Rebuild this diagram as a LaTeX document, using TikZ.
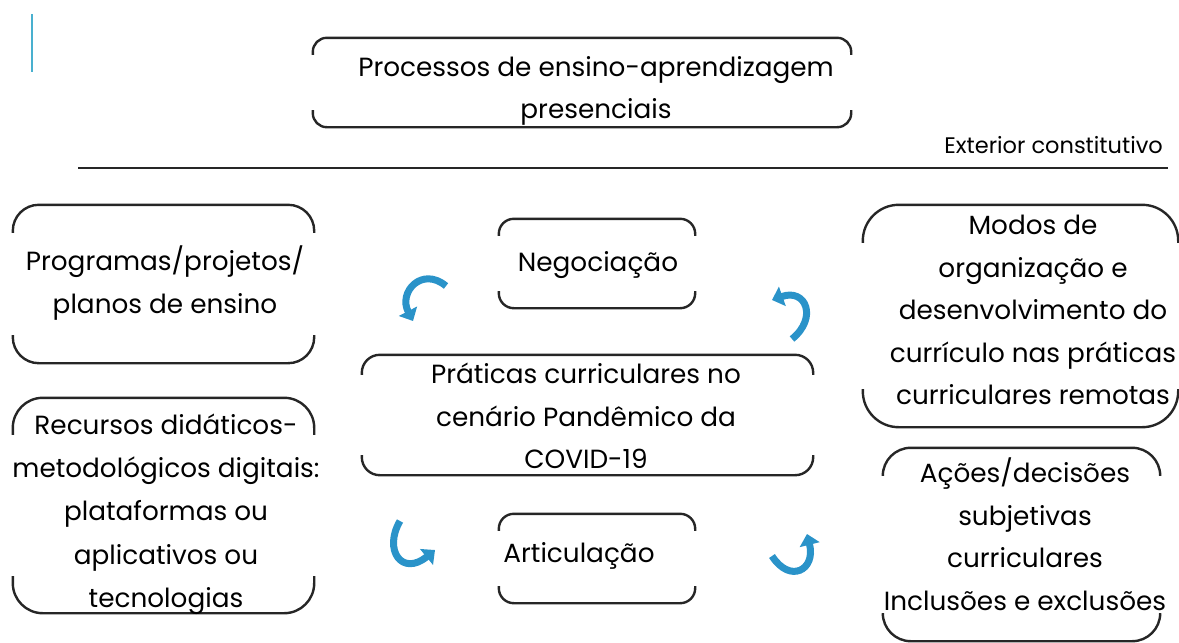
\documentclass[tikz,border=0pt]{standalone}
\usepackage{fontspec}
\setmainfont{Poppins}
\usetikzlibrary{arrows.meta,calc}
\definecolor{arrowblue}{HTML}{2A93C9}
\definecolor{cyanline}{HTML}{49B0CF}
\tikzset{
 box/.style={rectangle, draw=none, inner sep=0pt},
 lbl/.style={align=center, font=\fontsize{26.3}{42.5}\selectfont, inner sep=0pt, text=black},
 brk/.style={draw=black!85, line width=2.4pt, rounded corners=#1},
 carrow/.style={draw=arrowblue, line width=7pt, -{Triangle[width=20pt,length=11pt]}},
}
\newcommand\bracketbox[3]{%
 \draw[brk=#2] ([yshift=-#3]#1.north west) -- (#1.north west) -- (#1.north east) -- ([yshift=-#3]#1.north east);
 \draw[brk=#2] ([yshift=#3]#1.south west) -- (#1.south west) -- (#1.south east) -- ([yshift=#3]#1.south east);
}
\begin{document}
\begin{tikzpicture}[x=1pt,y=-1pt]
\useasboundingbox (0,0) rectangle (1179,643);
% decorative line
\draw[cyanline, line width=2pt] (32,14) -- (32,72);
% boxes
\node[box, minimum width=538pt, minimum height=89pt] (top) at (582,82.5) {};
\node[box, minimum width=301pt, minimum height=158pt] (prog) at (163.5,284) {};
\node[box, minimum width=301pt, minimum height=215pt] (rec) at (163.5,505.5) {};
\node[box, minimum width=196pt, minimum height=89pt] (neg) at (597,263.5) {};
\node[box, minimum width=451pt, minimum height=120pt] (prat) at (587.5,415) {};
\node[box, minimum width=196pt, minimum height=89pt] (art) at (597,558.5) {};
\node[box, minimum width=315pt, minimum height=222pt] (modos) at (1020.5,316) {};
\node[box, minimum width=277pt, minimum height=193pt] (acoes) at (1021.5,544.5) {};
\bracketbox{top}{14pt}{17pt}
\bracketbox{prog}{26pt}{28pt}
\bracketbox{rec}{30pt}{37pt}
\bracketbox{neg}{15pt}{17pt}
\bracketbox{prat}{18pt}{20pt}
\bracketbox{art}{15pt}{17pt}
\bracketbox{modos}{36pt}{38pt}
\bracketbox{acoes}{28pt}{28pt}
% texts
\node[lbl] (ttop) at (596,91) {Processos de ensino-aprendizagem\\presenciais};
\node[lbl] (tprog) at (165,283) {Programas/projetos/\\planos de ensino};
\node[lbl, font=\fontsize{26.3}{43.3}\selectfont] (trec) at (166,514) {Recursos didáticos-\\metodológicos digitais:\\plataformas ou\\aplicativos ou\\tecnologias};
\node[lbl] (tneg) at (598,265) {Negociação};
\node[lbl] (tprat) at (586,416) {Práticas curriculares no\\cenário Pandêmico da\\COVID-19};
\node[lbl] (tart) at (579,556) {Articulação};
\node[lbl] (tmodos) at (1033,310) {Modos de\\organização e\\desenvolvimento do\\currículo nas práticas\\curriculares remotas};
\node[lbl] (tacoes) at (1025,534) {Ações/decisões\\subjetivas\\curriculares\\Inclusões e exclusões};
\node[lbl, font=\fontsize{22.5}{26}\selectfont, anchor=east] (ext) at (1163,145) {Exterior constitutivo};
% separator
\coordinate (sepL) at (78,168);
\coordinate (sepR) at (1168,168);
\draw[black!85, line width=2.4pt] (sepL) -- (sepR);
% curved arrows
\coordinate (a1s) at (446,286); \coordinate (a1e) at (413,321);
\coordinate (a2s) at (792,339); \coordinate (a2e) at (772,300);
\coordinate (a3s) at (400,521); \coordinate (a3e) at (435,550);
\coordinate (a4s) at (772,556); \coordinate (a4e) at (807,534);
\draw[carrow] (a1s) .. controls (422,266) and (398,292) .. (a1e);
\draw[carrow] (a2s) .. controls (818,318) and (806,288) .. (a2e);
\draw[carrow] (a3s) .. controls (383,550) and (402,577) .. (a3e);
\draw[carrow] (a4s) .. controls (790,584) and (816,570) .. (a4e);
\end{tikzpicture}
\end{document}
